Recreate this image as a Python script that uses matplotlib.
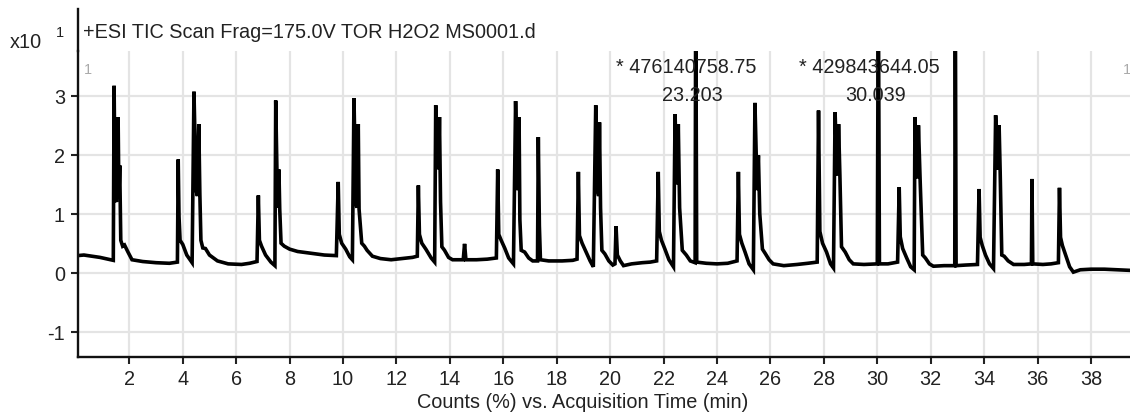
import matplotlib
matplotlib.use('Agg')
import matplotlib.pyplot as plt

# TIC trace (time in min, counts in x10 %)
trace_time = [
    0.06, 0.3, 0.6, 0.9, 1.2, 1.40,
    1.43, 1.47, 1.52, 1.58, 1.61, 1.64, 1.68, 1.75, 1.82, 1.95, 2.1, 2.5, 3.0, 3.5, 3.8,
    3.83, 3.86, 3.9, 4.0, 4.15, 4.35,
    4.42, 4.5, 4.55, 4.6, 4.64, 4.68, 4.75, 4.85, 5.0, 5.3, 5.7, 6.2, 6.5, 6.78,
    6.83, 6.87, 6.95, 7.1, 7.3, 7.45,
    7.48, 7.55, 7.6, 7.63, 7.68, 7.8, 8.0, 8.3, 8.8, 9.3, 9.75,
    9.82, 9.86, 9.95, 10.1, 10.25, 10.35,
    10.41, 10.48, 10.52, 10.57, 10.6, 10.7, 10.8, 10.9, 11.1, 11.4, 11.8, 12.2, 12.6, 12.78,
    12.82, 12.86, 12.95, 13.1, 13.3, 13.43,
    13.47, 13.54, 13.58, 13.61, 13.65, 13.7, 13.8, 13.95, 14.1, 14.5, 14.55, 14.6, 15.0, 15.4, 15.74,
    15.79, 15.83, 15.92, 16.05, 16.2, 16.38,
    16.46, 16.53, 16.56, 16.59, 16.62, 16.67, 16.8, 16.95, 17.1, 17.28,
    17.31, 17.35, 17.39, 17.7, 18.2, 18.6, 18.76,
    18.81, 18.85, 18.95, 19.1, 19.25, 19.37,
    19.46, 19.53, 19.57, 19.6, 19.64, 19.69, 19.8, 19.95, 20.1, 20.18,
    20.22, 20.27, 20.38, 20.5, 20.8, 21.2, 21.5, 21.74,
    21.8, 21.84, 21.92, 22.05, 22.2, 22.37,
    22.43, 22.49, 22.52, 22.55, 22.6, 22.7, 22.85, 23.0, 23.18,
    23.203, 23.24, 23.6, 24.0, 24.4, 24.75,
    24.8, 24.84, 24.93, 25.05, 25.2, 25.36,
    25.42, 25.5, 25.55, 25.6, 25.7, 25.8, 25.95, 26.1, 26.5, 27.0, 27.4, 27.75,
    27.8, 27.85, 27.95, 28.1, 28.25, 28.36,
    28.42, 28.49, 28.52, 28.55, 28.6, 28.66, 28.8, 28.95, 29.1, 29.5, 30.0,
    30.039, 30.08, 30.4, 30.76,
    30.82, 30.86, 30.95, 31.1, 31.25, 31.38,
    31.41, 31.48, 31.51, 31.54, 31.6, 31.7, 31.8, 31.95, 32.1, 32.5, 32.9,
    32.92, 32.95, 33.3, 33.75,
    33.81, 33.85, 33.93, 34.05, 34.2, 34.35,
    34.43, 34.5, 34.53, 34.56, 34.6, 34.66, 34.75, 34.9, 35.1, 35.5, 35.77,
    35.79, 35.82, 36.2, 36.5, 36.78,
    36.82, 36.86, 36.93, 37.05, 37.2, 37.34, 37.6, 38.0, 38.5, 39.0, 39.46,
]
trace_counts = [
    0.29, 0.30, 0.28, 0.26, 0.23, 0.21,
    3.17, 1.25, 1.20, 2.64, 1.30, 1.82, 0.55, 0.45, 0.47, 0.35, 0.22, 0.19, 0.17, 0.16, 0.18,
    1.92, 0.95, 0.55, 0.48, 0.30, 0.17,
    3.07, 1.40, 1.30, 2.52, 1.34, 0.55, 0.42, 0.41, 0.30, 0.20, 0.15, 0.14, 0.16, 0.19,
    1.31, 0.55, 0.45, 0.30, 0.18, 0.12,
    2.92, 1.10, 1.75, 1.08, 0.50, 0.45, 0.40, 0.36, 0.33, 0.30, 0.29,
    1.54, 0.65, 0.50, 0.40, 0.27, 0.22,
    2.96, 1.20, 1.10, 2.52, 1.08, 0.50, 0.45, 0.38, 0.28, 0.24, 0.22, 0.24, 0.26, 0.28,
    1.48, 0.65, 0.50, 0.40, 0.25, 0.18,
    2.84, 1.80, 1.76, 2.64, 1.20, 0.44, 0.38, 0.26, 0.22, 0.22, 0.49, 0.22, 0.22, 0.23, 0.25,
    1.75, 0.65, 0.55, 0.42, 0.25, 0.15,
    2.91, 1.50, 1.40, 2.64, 0.90, 0.38, 0.35, 0.25, 0.20, 0.20,
    2.30, 0.80, 0.22, 0.20, 0.20, 0.21, 0.23,
    1.71, 0.63, 0.50, 0.35, 0.20, 0.10,
    2.84, 1.40, 1.30, 2.55, 1.10, 0.38, 0.32, 0.20, 0.13, 0.15,
    0.79, 0.30, 0.20, 0.12, 0.15, 0.17, 0.18, 0.20,
    1.71, 0.70, 0.55, 0.40, 0.22, 0.10,
    2.69, 1.60, 1.50, 2.52, 1.10, 0.38, 0.30, 0.20, 0.17,
    5.00, 0.18, 0.16, 0.15, 0.16, 0.20,
    1.71, 0.65, 0.50, 0.35, 0.15, 0.05,
    2.88, 1.40, 1.99, 1.00, 0.40, 0.33, 0.22, 0.15, 0.12, 0.14, 0.16, 0.18,
    2.75, 0.70, 0.50, 0.35, 0.15, 0.08,
    2.72, 1.70, 1.65, 2.52, 1.65, 0.44, 0.35, 0.22, 0.15, 0.14, 0.15,
    5.00, 0.15, 0.15, 0.18,
    1.45, 0.61, 0.41, 0.25, 0.10, 0.05,
    2.64, 1.70, 1.60, 2.50, 1.62, 0.30, 0.25, 0.15, 0.11, 0.12, 0.12,
    5.00, 0.12, 0.13, 0.14,
    1.42, 0.60, 0.46, 0.30, 0.15, 0.07,
    2.67, 1.80, 1.75, 2.50, 1.71, 0.30, 0.28, 0.20, 0.14, 0.14, 0.15,
    1.59, 0.15, 0.14, 0.15, 0.17,
    1.44, 0.60, 0.46, 0.30, 0.10, 0.01, 0.05, 0.06, 0.06, 0.05, 0.04,
]

# labelled peaks
label_rt = [23.203, 30.039]
label_area = ['* 476140758.75', '* 429843644.05']
label_time = ['23.203', '30.039']

title = '+ESI TIC Scan Frag=175.0V TOR H2O2 MS0001.d'
xlabel = 'Counts (%) vs. Acquisition Time (min)'
x_ticks = list(range(2, 40, 2))
y_ticks = [-1, 0, 1, 2, 3]

plt.rcParams['font.family'] = ['Liberation Sans', 'DejaVu Sans']
plt.rcParams['axes.unicode_minus'] = False
txt = '#222222'

fig = plt.figure(figsize=(11.3, 4.14), dpi=100)
ax = fig.add_axes([77.5 / 1130, 56 / 414, 1 - 77.5 / 1130, 306.5 / 414])

ax.plot(trace_time, trace_counts, color='black', lw=2.6, solid_joinstyle='miter')

ax.set_xlim(0.06, 39.46)
ax.set_ylim(-1.429, 3.768)
ax.set_xticks(x_ticks)
ax.set_yticks(y_ticks)
ax.grid(True, color='#e4e4e4', lw=1.6)
ax.set_axisbelow(True)

for side in ['top', 'right']:
    ax.spines[side].set_visible(False)
for side in ['left', 'bottom']:
    ax.spines[side].set_linewidth(1.7)
    ax.spines[side].set_color('#111111')
ax.tick_params(axis='both', length=5, width=1.5, color='#222222', labelsize=14.3, labelcolor=txt)
ax.tick_params(axis='x', pad=4)
ax.tick_params(axis='y', pad=4)

# left spine continues up past the plot into the title row
ax.plot([0, 0], [1, 1 + 42 / 306.5], transform=ax.transAxes, clip_on=False,
        color='#111111', lw=1.7)

# peak labels
for rt, area, t in zip(label_rt, label_area, label_time):
    ax.text(rt - 0.34, 3.49, area, ha='center', va='center', fontsize=14.3, color=txt)
    ax.text(rt - 0.12, 3.02, t, ha='center', va='center', fontsize=14.3, color=txt)

# small grey markers in the corners
ax.text(10 / (1130 - 77.5), 1 - 18 / 306.5, '1', transform=ax.transAxes,
        ha='center', va='center', fontsize=10.5, color='#aaaaaa')
ax.text(1 - 3 / (1130 - 77.5), 1 - 18 / 306.5, '1', transform=ax.transAxes,
        ha='center', va='center', fontsize=10.5, color='#aaaaaa')

fig.text(83 / 1130, 1 - 32 / 414, title, ha='left', va='center', fontsize=14.3, color=txt)
fig.text(10 / 1130, 1 - 43 / 414, 'x10', ha='left', va='center', fontsize=14.3, color=txt)
fig.text(60 / 1130, 1 - 33 / 414, '1', ha='center', va='center', fontsize=10.5, color=txt)
fig.text(583 / 1130, 1 - 403 / 414, xlabel, ha='center', va='center', fontsize=14.3, color=txt)

fig.savefig('out.png', dpi=100)
